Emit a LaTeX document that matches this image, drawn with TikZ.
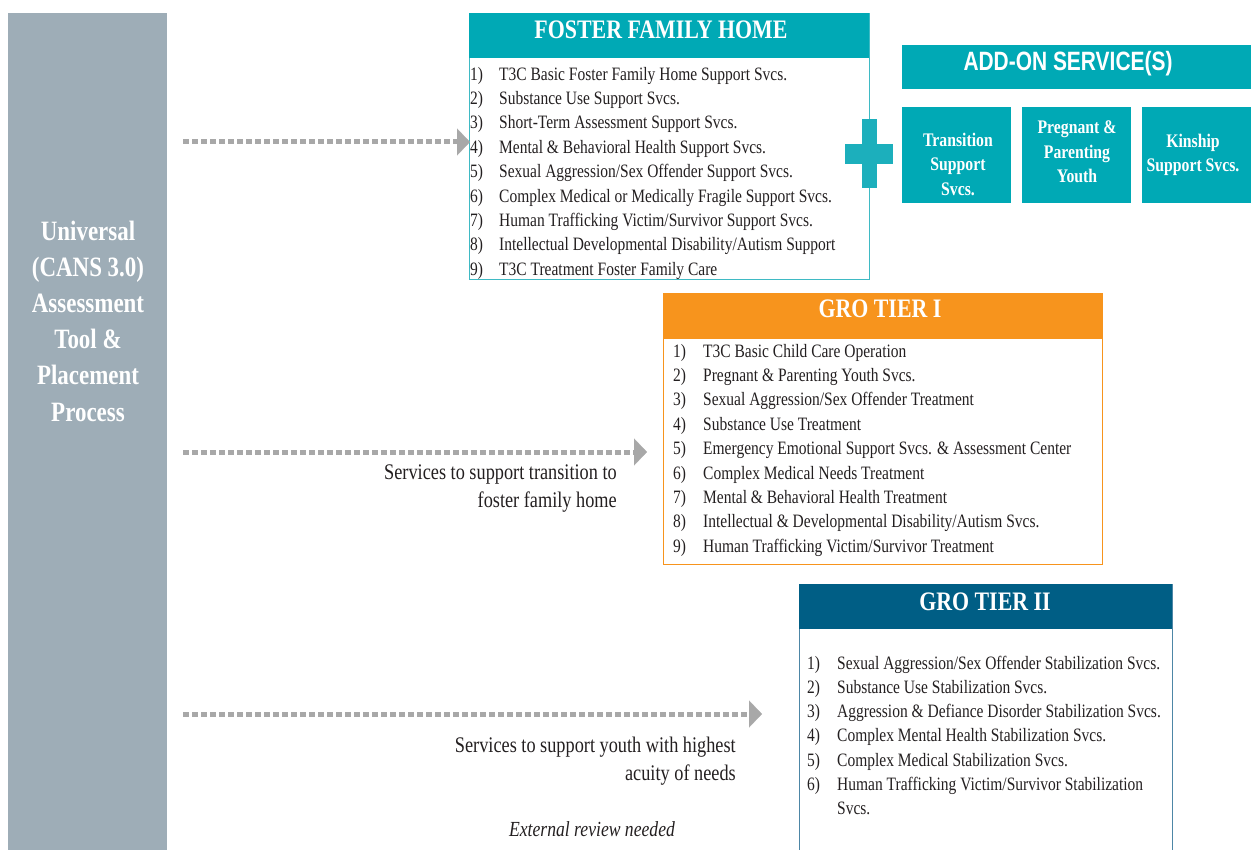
\documentclass[tikz,border=0pt]{standalone}
\usepackage{fontspec}
\setmainfont{Liberation Serif}[FakeStretch=0.82]
\newfontfamily\bannerfont{Liberation Sans}[FakeStretch=0.79]
\usetikzlibrary{arrows.meta}
\definecolor{barGray}{HTML}{9EADB7}
\definecolor{fosterTeal}{HTML}{00A9B5}
\definecolor{plusTeal}{HTML}{1CAFBC}
\definecolor{fosterLine}{HTML}{3FBAC4}
\definecolor{tierOrange}{HTML}{F7941D}
\definecolor{tierBlue}{HTML}{005E85}
\definecolor{tierBlueLine}{HTML}{4D86A6}
\definecolor{dotGray}{HTML}{A8A8A8}
\definecolor{ink}{HTML}{231F20}

\begin{document}
\begin{tikzpicture}[x=1pt, y=-1pt,
    every node/.style={text=ink},
    boxframe/.style={draw=#1, line width=1.2pt, anchor=north west, inner sep=0pt},
    boxhead/.style={fill=#1, anchor=north west, inner sep=0pt},
    headtitle/.style={text=white, anchor=base, inner sep=0pt, font=\fontsize{26.7}{30}\selectfont\bfseries},
    itemlist/.style={anchor=north west, inner sep=0pt, font=\fontsize{18.9}{24.4}\selectfont},
    addon/.style={fill=fosterTeal, anchor=north west, inner sep=0pt, minimum width=109pt, minimum height=96pt},
    addontext/.style={text=white, align=center, inner sep=0pt, font=\fontsize{19.2}{24.5}\selectfont\bfseries},
    note/.style={anchor=north east, inner sep=0pt, font=\fontsize{22.3}{28.5}\selectfont},
    flow/.style={draw=dotGray, line width=5pt, dash pattern=on 6pt off 3pt, shorten <=16pt,
      -{Triangle[length=13pt, width=27pt, line width=0.1pt]}}
  ]
    \useasboundingbox (0,0) rectangle (1251,850);

    % assessment column
    \node[fill=barGray, anchor=north west, inner sep=0pt, minimum width=159pt, minimum height=837pt] (cans) at (8,13) {};
    \node[text=white, align=center, font=\fontsize{28}{36.2}\selectfont\bfseries] (cansLabel) at (88,321)
      {Universal\\(CANS 3.0)\\Assessment\\Tool \&\\Placement\\Process};

    % foster family home
    \node[boxframe=fosterLine, minimum width=400pt, minimum height=266pt] (foster) at (469,13) {};
    \node[boxhead=fosterTeal, minimum width=400pt, minimum height=45pt] (fosterHead) at (469,13) {};
    \node[headtitle] (fosterTitle) at (661,39) {FOSTER FAMILY HOME};
    \node[itemlist] (fosterList) at (470,62.9) {\begin{tabular}{@{}p{29pt}@{}l@{}}
      1) & T3C Basic Foster Family Home Support Svcs.\\
      2) & Substance Use Support Svcs.\\
      3) & Short-Term Assessment Support Svcs.\\
      4) & Mental \& Behavioral Health Support Svcs.\\
      5) & Sexual Aggression/Sex Offender Support Svcs.\\
      6) & Complex Medical or Medically Fragile Support Svcs.\\
      7) & Human Trafficking Victim/Survivor Support Svcs.\\
      8) & Intellectual Developmental Disability/Autism Support\\
      9) & T3C Treatment Foster Family Care
    \end{tabular}};

    % plus sign
    \fill[plusTeal] (862,119) rectangle (877,188);
    \fill[plusTeal] (845,144) rectangle (893,164);

    % add-on services
    \node[fill=fosterTeal, anchor=north west, inner sep=0pt, minimum width=349pt, minimum height=44pt] (addBanner) at (902,45) {};
    \node[text=white, anchor=base, inner sep=0pt, font=\bannerfont\fontsize{26.5}{30}\selectfont\bfseries] (addTitle) at (1068,71) {ADD-ON SERVICE(S)};
    \node[addon] (addTransition) at (902,107) {};
    \node[addon] (addParenting) at (1022,107) {};
    \node[addon] (addKinship) at (1142,107) {};
    \node[addontext] (transitionText) at (958,164) {Transition\\Support\\Svcs.};
    \node[addontext] (parentingText) at (1077,152) {Pregnant \&\\Parenting\\Youth};
    \node[addontext] (kinshipText) at (1193,155) {Kinship\\Support Svcs.};

    % gro tier I
    \node[boxframe=tierOrange, minimum width=439pt, minimum height=271pt] (tierOne) at (663,293) {};
    \node[boxhead=tierOrange, minimum width=439pt, minimum height=46pt] (tierOneHead) at (663,293) {};
    \node[headtitle] (tierOneTitle) at (880,318) {GRO TIER I};
    \node[itemlist] (tierOneList) at (673,339.9) {\begin{tabular}{@{}p{30pt}@{}l@{}}
      1) & T3C Basic Child Care Operation\\
      2) & Pregnant \& Parenting Youth Svcs.\\
      3) & Sexual Aggression/Sex Offender Treatment\\
      4) & Substance Use Treatment\\
      5) & Emergency Emotional Support Svcs. \& Assessment Center\\
      6) & Complex Medical Needs Treatment\\
      7) & Mental \& Behavioral Health Treatment\\
      8) & Intellectual \& Developmental Disability/Autism Svcs.\\
      9) & Human Trafficking Victim/Survivor Treatment
    \end{tabular}};

    % gro tier II
    \node[boxframe=tierBlueLine, minimum width=373pt, minimum height=290pt] (tierTwo) at (799,584) {};
    \node[boxhead=tierBlue, minimum width=373pt, minimum height=45pt] (tierTwoHead) at (799,584) {};
    \node[headtitle] (tierTwoTitle) at (985,610) {GRO TIER II};
    \node[itemlist, font=\fontsize{18.9}{24.2}\selectfont] (tierTwoList) at (807,652.1) {\begin{tabular}{@{}p{30pt}@{}l@{}}
      1) & Sexual Aggression/Sex Offender Stabilization Svcs.\\
      2) & Substance Use Stabilization Svcs.\\
      3) & Aggression \& Defiance Disorder Stabilization Svcs.\\
      4) & Complex Mental Health Stabilization Svcs.\\
      5) & Complex Medical Stabilization Svcs.\\
      6) & Human Trafficking Victim/Survivor Stabilization\\
         & Svcs.
    \end{tabular}};

    % placement paths
    \coordinate (fosterIn) at (470,142);
    \coordinate (tierOneIn) at (647,452);
    \coordinate (tierTwoIn) at (762,714);
    \draw[flow] (cans.east |- fosterIn) -- (fosterIn);
    \draw[flow] (cans.east |- tierOneIn) -- (tierOneIn);
    \draw[flow] (cans.east |- tierTwoIn) -- (tierTwoIn);

    \node[note] (transitionNote) at (617,459) {\begin{tabular}{@{}r@{}}
      Services to support transition to\\ foster family home\end{tabular}};
    \node[note] (acuityNote) at (736,732) {\begin{tabular}{@{}r@{}}
      Services to support youth with highest\\ acuity of needs\end{tabular}};
    \node[anchor=base, inner sep=0pt, font=\fontsize{21.5}{28}\selectfont\itshape] (reviewNote) at (592,836) {External review needed};
\end{tikzpicture}
\end{document}
